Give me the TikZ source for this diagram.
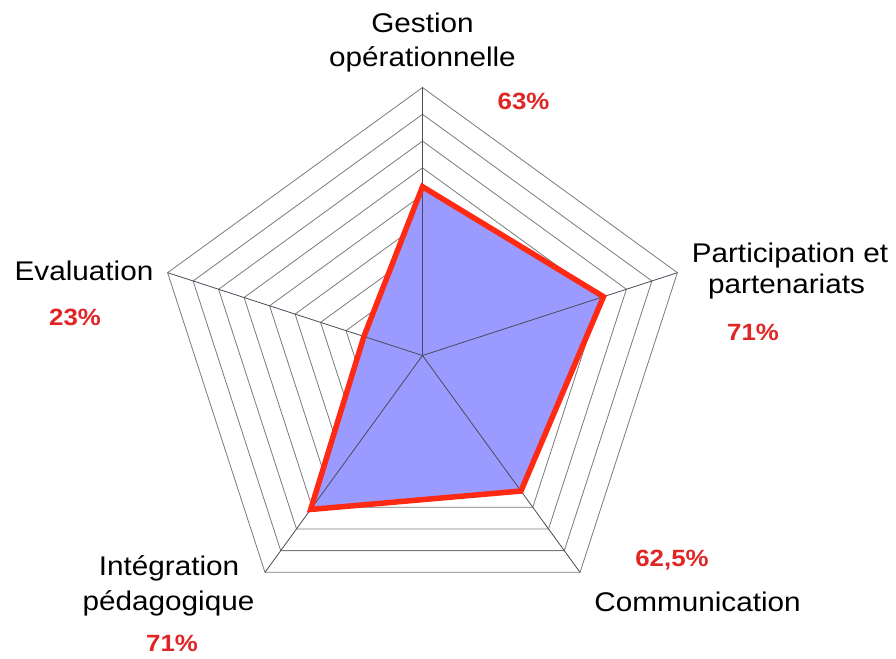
\documentclass[tikz,border=0pt]{standalone}
\usepackage{fontspec}
\setmainfont{Liberation Sans}
\newfontfamily\labfont[FakeStretch=1.1]{Liberation Sans}
\definecolor{gridgray}{HTML}{7A7A7A}
\definecolor{axisgray}{HTML}{4A4A5A}
\definecolor{areablue}{HTML}{9A9AFF}
\definecolor{linered}{HTML}{FF2A14}
\definecolor{pctred}{HTML}{E02525}
\tikzset{
  gridline/.style={draw=gridgray, line width=0.8pt},
  axisline/.style={draw=axisgray, line width=0.8pt},
  area/.style={fill=areablue},
  outline/.style={draw=linered, line width=5.5pt, line join=miter},
  axlabel/.style={inner sep=0pt, anchor=base, font=\labfont\fontsize{27}{32}\selectfont, text=black},
  pctlabel/.style={inner sep=0pt, anchor=base, font=\labfont\fontsize{23.5}{28}\selectfont\bfseries, text=pctred}
}
\begin{document}
\begin{tikzpicture}[x=1pt,y=1pt]
\useasboundingbox (0,-658) rectangle (896,0);
\begin{scope}[shift={(422.5,-355.5)}]
  \coordinate (O) at (0,0);
  \foreach \k in {1,...,10}{
    \pgfmathsetmacro{\rr}{26.8*\k}
    \draw[gridline] (90:\rr pt) -- (18:\rr pt) -- (-54:\rr pt) -- (-126:\rr pt) -- (162:\rr pt) -- cycle;
  }
  \coordinate (vg) at (90:268pt);
  \coordinate (vp) at (18:268pt);
  \coordinate (vc) at (-54:268pt);
  \coordinate (vi) at (-126:268pt);
  \coordinate (ve) at (162:268pt);
  \coordinate (dg) at (90:168.8pt);
  \coordinate (dp) at (18:190.3pt);
  \coordinate (dc) at (-54:167.5pt);
  \coordinate (di) at (-126:190.3pt);
  \coordinate (de) at (162:61.6pt);
  \fill[area] (dg) -- (dp) -- (dc) -- (di) -- (de) -- cycle;
  \foreach \v in {vg,vp,vc,vi,ve}{
    \draw[axisline] (O) -- (\v);
  }
  \draw[outline] (dg) -- (dp) -- (dc) -- (di) -- (de) -- cycle;
\end{scope}
% labels (image coordinates: x, -y baseline)
\node[axlabel] (g1) at (422.5,-33) {Gestion};
\node[axlabel] (g2) at (422.5,-67) {opérationnelle};
\node[pctlabel] (gp) at (523.5,-110) {63\%};
\node[axlabel] (p1) at (790,-262) {Participation et};
\node[axlabel] (p2) at (786.5,-293) {partenariats};
\node[pctlabel] (pp) at (753,-340) {71\%};
\node[axlabel] (e1) at (84,-280) {Evaluation};
\node[pctlabel] (ep) at (75,-325) {23\%};
\node[axlabel] (i1) at (169,-575) {Intégration};
\node[axlabel] (i2) at (168.5,-610) {pédagogique};
\node[pctlabel] (ip) at (172,-651.5) {71\%};
\node[pctlabel] (cp) at (672,-566.5) {62,5\%};
\node[axlabel] (c1) at (697.5,-611.5) {Communication};
\end{tikzpicture}
\end{document}
